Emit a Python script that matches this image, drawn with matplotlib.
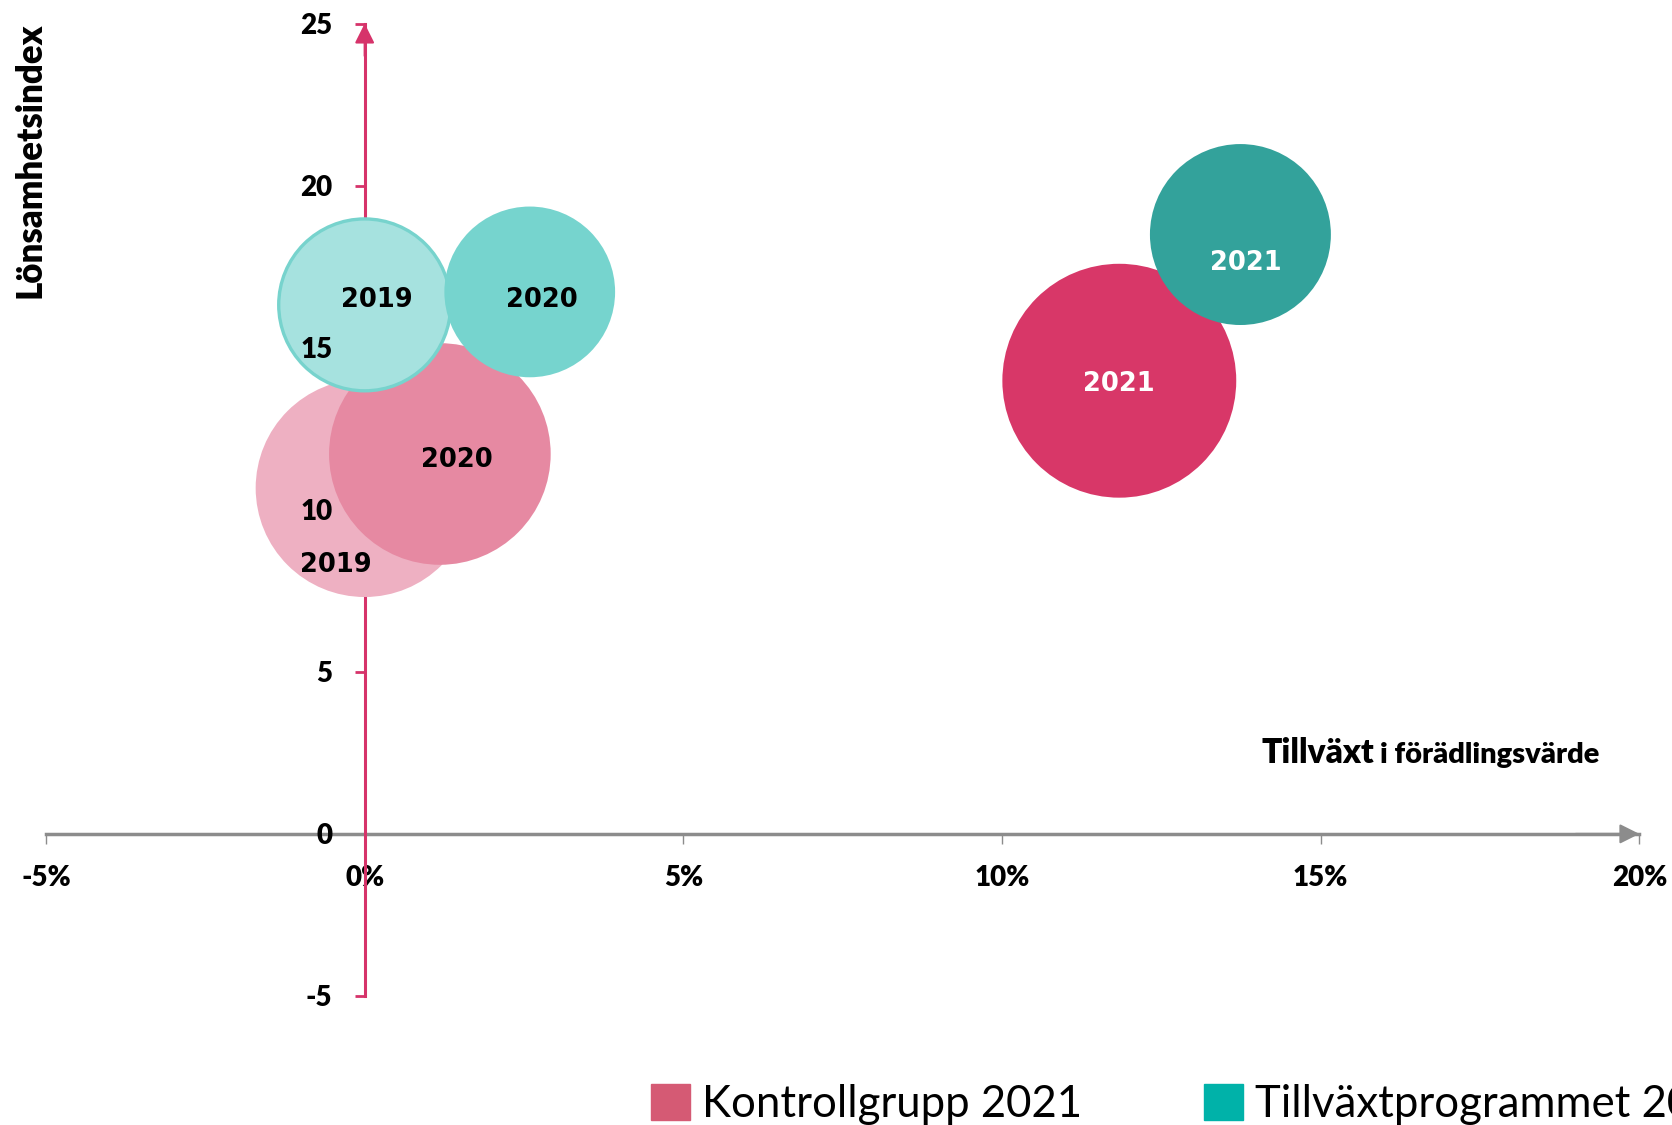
import matplotlib.pyplot as plt
from matplotlib.patches import Patch

# data
years = ['2019', '2020', '2021']
kontroll_x = [0.0, 1.18, 11.84]		# tillväxt i förädlingsvärde, %
kontroll_y = [10.67, 11.72, 13.98]	# lönsamhetsindex
kontroll_size = [119, 123, 137]		# bubble size
tillvaxt_x = [0.0, 2.59, 13.74]
tillvaxt_y = [16.32, 16.72, 18.49]
tillvaxt_size = [74, 73, 82]
x_ticks = [-5, 0, 5, 10, 15, 20]
x_ticklabels = ['-5%', '0%', '5%', '10%', '15%', '20%']
y_ticks = [-5, 0, 5, 10, 15, 20, 25]
y_ticklabels = ['-5', '0', '5', '10', '15', '20', '25']
legend_labels = ['Kontrollgrupp 2021', 'Tillväxtprogrammet 2021']

# styles
kontroll_colors = ['#EEB0C2', '#E689A2', '#D83768']
tillvaxt_colors = ['#A6E2DF', '#76D4CE', '#33A29B']
tillvaxt_edges = ['#77D3CD', 'none', 'none']
label_colors = ['black', 'black', 'white']
kontroll_offsets = [(-21, -55.5), (12, -4.5), (0, -2.5)]
tillvaxt_offsets = [(9, 3.5), (9, -5.5), (4, -20.5)]
pink = '#D6336A'
grey = '#8C8C8C'
SIZE_SCALE = 207

plt.rcParams['axes.unicode_minus'] = False
plt.rcParams['font.family'] = ['Lato', 'DejaVu Sans']
plt.rcParams['font.weight'] = 'bold'

fig = plt.figure(figsize=(16.72, 11.25), dpi=100)
ax = fig.add_axes([0.0275, 0.1147, 0.953, 0.8644])
ax.set_xlim(-5, 20)
ax.set_ylim(-5, 25)

# bubbles, control group first, then the programme on top
ax.scatter(kontroll_x, kontroll_y, s=[v * SIZE_SCALE for v in kontroll_size],
		   c=kontroll_colors, linewidths=0, zorder=1)
ax.scatter(tillvaxt_x, tillvaxt_y, s=[v * SIZE_SCALE for v in tillvaxt_size],
		   c=tillvaxt_colors, edgecolors=tillvaxt_edges, linewidths=2.4, zorder=1)

for i in range(len(years)):
	ax.annotate(years[i], (kontroll_x[i], kontroll_y[i]), xytext=kontroll_offsets[i],
				textcoords='offset points', ha='center', va='center', color=label_colors[i],
				fontsize=18.5, fontweight='bold', family='DejaVu Sans', zorder=3)
	ax.annotate(years[i], (tillvaxt_x[i], tillvaxt_y[i]), xytext=tillvaxt_offsets[i],
				textcoords='offset points', ha='center', va='center', color=label_colors[i],
				fontsize=18.5, fontweight='bold', family='DejaVu Sans', zorder=3)

# axes crossing at zero, lines and tick marks behind the bubbles
for side in ['top', 'right']:
	ax.spines[side].set_visible(False)
ax.spines['left'].set_position(('data', 0))
ax.spines['bottom'].set_position(('data', 0))
ax.spines['left'].set_color(pink)
ax.spines['left'].set_linewidth(2.2)
ax.spines['left'].set_zorder(0.6)
ax.spines['bottom'].set_color(grey)
ax.spines['bottom'].set_linewidth(2.5)
ax.spines['bottom'].set_zorder(0.5)
ax.xaxis.set_zorder(0.4)
ax.yaxis.set_zorder(0.4)

# arrow heads
ax.annotate('', xy=(0, 25), xytext=(0, 24), annotation_clip=False, zorder=0.6,
			arrowprops=dict(arrowstyle='-|>,head_length=0.6,head_width=0.3', color=pink,
							lw=1.5, mutation_scale=20, shrinkA=0, shrinkB=0))
ax.annotate('', xy=(20, 0), xytext=(19, 0), annotation_clip=False, zorder=0.5,
			arrowprops=dict(arrowstyle='-|>,head_length=0.6,head_width=0.3', color=grey,
							lw=1.5, mutation_scale=20, shrinkA=0, shrinkB=0))

ax.tick_params(axis='x', direction='out', length=7.2, width=1, color=grey, pad=15.5)
ax.tick_params(axis='y', direction='out', length=7.2, width=2, color=pink, labelleft=False)
ax.set_xticks(x_ticks, x_ticklabels, fontsize=20, fontweight='heavy')
ax.set_yticks(y_ticks)

# y tick labels sit on top of the bubbles, so they go on a twin axis
ax2 = ax.twinx()
ax2.set_ylim(ax.get_ylim())
for side in ax2.spines:
	ax2.spines[side].set_visible(False)
ax2.spines['left'].set_position(('data', 0))
ax2.yaxis.set_ticks_position('left')
ax2.tick_params(axis='y', direction='out', length=7.2, color='none', pad=16, labelsize=20,
				labelleft=True, labelright=False)
ax2.set_yticks(y_ticks, y_ticklabels, fontsize=20, fontweight='heavy')

# axis titles
fig.text(0.018, 1 - 160.5 / 1125, 'Lönsamhetsindex', rotation=90, fontsize=25,
		 fontweight='heavy', ha='center', va='center')
fig.text(1261 / 1672, 1 - 763 / 1125, 'Tillväxt', fontsize=24, fontweight='heavy',
		 ha='left', va='baseline')
fig.text(1380 / 1672, 1 - 763 / 1125, 'i förädlingsvärde', fontsize=21, fontweight='heavy',
		 ha='left', va='baseline')

# legend, runs off the right edge like the original
handles = [Patch(color='#D55A74', label=legend_labels[0]),
		   Patch(color='#00B2A9', label=legend_labels[1])]
fig.legend(handles=handles, loc='lower left', bbox_to_anchor=(651 / 1672, 0.0), ncol=2,
		   frameon=False, prop=dict(family='Lato', size=31.5, weight='normal'),
		   handlelength=0.89, handleheight=0.87, handletextpad=0.27, columnspacing=2.79,
		   borderpad=0, borderaxespad=0)

fig.savefig('out.png', dpi=100)
